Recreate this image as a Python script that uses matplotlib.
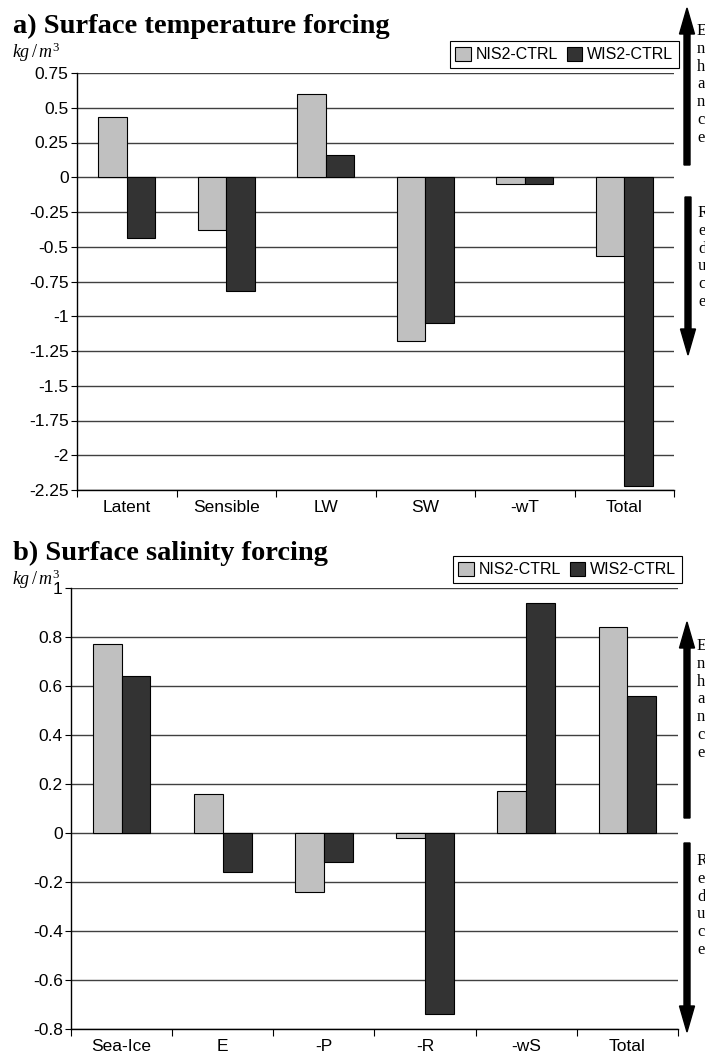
"""Surface temperature and salinity forcing bar charts."""

import matplotlib
matplotlib.use('Agg')
import matplotlib.pyplot as plt
from matplotlib.patches import FancyArrow, Patch
import numpy as np


SERIES = ['NIS2-CTRL', 'WIS2-CTRL']

TEMP_CATS = ['Latent', 'Sensible', 'LW', 'SW', '-wT', 'Total']
TEMP_NIS2 = [0.43, -0.38, 0.60, -1.18, -0.05, -0.57]
TEMP_WIS2 = [-0.44, -0.82, 0.16, -1.05, -0.05, -2.22]
TEMP_TICKS = [0.75, 0.5, 0.25, 0, -0.25, -0.5, -0.75, -1, -1.25, -1.5,
              -1.75, -2, -2.25]

SAL_CATS = ['Sea-Ice', 'E', '-P', '-R', '-wS', 'Total']
SAL_NIS2 = [0.77, 0.16, -0.24, -0.02, 0.17, 0.84]
SAL_WIS2 = [0.64, -0.16, -0.12, -0.74, 0.94, 0.56]
SAL_TICKS = [1, 0.8, 0.6, 0.4, 0.2, 0, -0.2, -0.4, -0.6, -0.8]

_W, _H = 705, 1061
_LIGHT = '#c0c0c0'
_DARK = '#333333'


def _fx(px):
    return px / _W


def _fy(py):
    return 1 - py / _H


def _main():
    plt.rcParams['font.family'] = 'Liberation Sans'
    plt.rcParams['axes.unicode_minus'] = False
    plt.rcParams['mathtext.fontset'] = 'custom'
    plt.rcParams['mathtext.it'] = 'Liberation Serif:italic'
    plt.rcParams['mathtext.rm'] = 'Liberation Serif'

    fig = plt.figure(figsize=(_W / 100, _H / 100), dpi=100)

    ax1 = fig.add_axes([_fx(77), _fy(490), _fx(674 - 77), (490 - 73) / _H])
    _bars(fig, ax1, TEMP_CATS, TEMP_NIS2, TEMP_WIS2, TEMP_TICKS,
          (679, 41))
    fig.text(_fx(13), _fy(33), 'a) Surface temperature forcing',
             family='Liberation Serif', weight='bold', fontsize=20.5)
    fig.text(_fx(12), _fy(58), r'$kg\,/\,m^3$', fontsize=13)

    ax2 = fig.add_axes([_fx(71), _fy(1029), _fx(678 - 71), (1029 - 588) / _H])
    _bars(fig, ax2, SAL_CATS, SAL_NIS2, SAL_WIS2, SAL_TICKS,
          (682, 556))
    fig.text(_fx(13), _fy(560), 'b) Surface salinity forcing',
             family='Liberation Serif', weight='bold', fontsize=20.5)
    fig.text(_fx(12), _fy(585), r'$kg\,/\,m^3$', fontsize=13)

    # enhance / reduce arrows in pixel coordinates
    _arrow(fig, 687, 165, 8, 'Enhance', 23)
    _arrow(fig, 688, 197, 355, 'Reduce', 205)
    _arrow(fig, 687, 818, 622, 'Enhance', 638)
    _arrow(fig, 687, 843, 1032, 'Reduce', 853)

    fig.savefig('out.png', dpi=100)


def _bars(fig, ax, cats, nis2, wis2, ticks, legend_corner):
    x = np.arange(len(cats))
    w = 0.285
    ax.bar(x - w / 2, nis2, w, color=_LIGHT, edgecolor='black', lw=0.8,
           zorder=3)
    ax.bar(x + w / 2, wis2, w, color=_DARK, edgecolor='black', lw=0.8,
           zorder=3)

    ax.set_xlim(-0.5, len(cats) - 0.5)
    ax.set_ylim(ticks[-1], ticks[0])
    ax.set_yticks(ticks)
    ax.set_yticklabels(['%g' % t for t in ticks], fontsize=12.5)
    ax.set_xticks(x)
    ax.set_xticklabels(cats, fontsize=12.5)
    ax.set_xticks(np.arange(len(cats) + 1) - 0.5, minor=True)
    ax.tick_params(axis='x', which='major', length=0, pad=7)
    ax.tick_params(axis='x', which='minor', length=5, width=0.8,
                   direction='out')
    ax.tick_params(axis='y', length=4, width=0.8, pad=2)

    ax.grid(axis='y', color='#404040', lw=1)
    ax.set_axisbelow(True)
    for side in ['top', 'right']:
        ax.spines[side].set_visible(False)
    for side in ['left', 'bottom']:
        ax.spines[side].set_linewidth(1)

    handles = [Patch(facecolor=_LIGHT, edgecolor='black', lw=0.8),
               Patch(facecolor=_DARK, edgecolor='black', lw=0.8)]
    leg = ax.legend(handles, SERIES, loc='upper right',
                    bbox_to_anchor=(_fx(legend_corner[0]),
                                    _fy(legend_corner[1])),
                    bbox_transform=fig.transFigure, ncol=2, fontsize=11.5,
                    frameon=True, fancybox=False, framealpha=1,
                    edgecolor='black', borderpad=0.35, borderaxespad=0,
                    handlelength=1.0, handleheight=1.0, handletextpad=0.3,
                    columnspacing=0.5)
    leg.get_frame().set_linewidth(0.8)
    leg.set_zorder(5)


def _arrow(fig, x, y0, y1, word, text_top):
    tr = fig.dpi_scale_trans
    arrow = FancyArrow(x / 100, (_H - y0) / 100, 0, (y0 - y1) / 100,
                       width=0.06, head_width=0.15, head_length=0.26,
                       length_includes_head=True, color='black',
                       transform=tr)
    fig.add_artist(arrow)
    fig.text((x + 10) / 100, (_H - text_top) / 100, '\n'.join(word),
             transform=tr, family='Liberation Serif', fontsize=12,
             va='top', ha='left', linespacing=1.15)


if __name__ == '__main__':
    _main()
